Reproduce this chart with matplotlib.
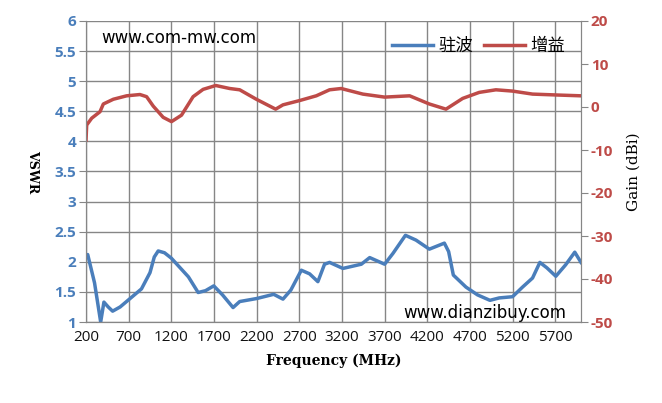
import matplotlib.pyplot as plt

# VSWR (驻波)
vswr_freq = [200, 220, 300, 372, 410, 460, 512, 600, 700, 850, 950, 1000, 1046, 1120,
             1200, 1400, 1514, 1600, 1697, 1800, 1923, 2001, 2200, 2399, 2508, 2600,
             2723, 2820, 2917, 2995, 3054, 3210, 3426, 3524, 3699, 3797, 3943, 4067,
             4223, 4399, 4449, 4504, 4652, 4788, 4933, 5042, 5198, 5315, 5432, 5518,
             5600, 5705, 5820, 5927, 6000]
vswr = [2.08, 2.12, 1.65, 1.0, 1.33, 1.25, 1.18, 1.25, 1.37, 1.55, 1.82, 2.08, 2.18, 2.15,
        2.06, 1.75, 1.49, 1.52, 1.60, 1.45, 1.24, 1.34, 1.39, 1.46, 1.38, 1.53,
        1.86, 1.80, 1.67, 1.96, 1.99, 1.89, 1.96, 2.07, 1.96, 2.14, 2.44, 2.36,
        2.21, 2.31, 2.17, 1.78, 1.58, 1.45, 1.36, 1.40, 1.42, 1.58, 1.73, 1.99,
        1.90, 1.76, 1.95, 2.16, 1.99]

# Gain (增益) in dBi
gain_freq = [200, 208, 267, 364, 403, 520, 676, 832, 910, 988, 1104, 1202, 1319,
             1455, 1572, 1720, 1884, 2001, 2196, 2422, 2508, 2703, 2898, 3054,
             3190, 3444, 3699, 3992, 4223, 4418, 4614, 4808, 5003, 5198, 5432,
             5705, 6000]
gain = [-7.7, -4.2, -2.6, -1.1, 0.7, 1.8, 2.6, 2.9, 2.4, 0.2, -2.4, -3.4, -1.9,
        2.4, 4.1, 5.0, 4.3, 4.0, 1.8, -0.5, 0.5, 1.5, 2.6, 4.0,
        4.3, 3.0, 2.3, 2.6, 0.7, -0.5, 2.0, 3.4, 4.0, 3.7, 3.0,
        2.8, 2.6]

xticks = list(range(200, 6000, 500))
vswr_ticks = [1, 1.5, 2, 2.5, 3, 3.5, 4, 4.5, 5, 5.5, 6]
gain_ticks = list(range(-50, 21, 10))

blue = '#4a7ebb'
red = '#be4b48'
grid = '#868686'

fig = plt.figure(figsize=(6.62, 4.03), dpi=100)
ax = fig.add_axes([86 / 662, 1 - 322 / 403, 495 / 662, 301 / 403])
ax2 = ax.twinx()

l1, = ax.plot(vswr_freq, vswr, color=blue, lw=2.5, solid_joinstyle='round')
l2, = ax2.plot(gain_freq, gain, color=red, lw=2.5, solid_joinstyle='round')

ax.set_xlim(200, 6000)
ax.set_ylim(1, 6)
ax2.set_ylim(-50, 20)
ax.set_xticks(xticks)
ax.set_xticklabels([str(t) for t in xticks], fontsize=11, family='Open Sans', color='#111111')
ax.set_yticks(vswr_ticks)
ax.set_yticklabels(['%g' % t for t in vswr_ticks], fontsize=11, family='Open Sans',
                   fontweight='bold', color=blue)
ax2.set_yticks(gain_ticks)
ax2.set_yticklabels([str(t) for t in gain_ticks], fontsize=11, family='Open Sans',
                    fontweight='bold', color=red)

ax.grid(True, color=grid, lw=1)
ax.tick_params(axis='x', length=0, pad=6)
ax.tick_params(axis='y', length=5, color=grid, pad=2)
ax2.tick_params(axis='y', length=5, color=grid, pad=2)
for a in (ax, ax2):
    a.spines['top'].set_visible(False)
    for s in ('left', 'right', 'bottom'):
        a.spines[s].set_color(grid)

ax.set_xlabel('Frequency (MHz)', family='DejaVu Serif', fontweight='bold', fontsize=10, labelpad=6)
ax.set_ylabel('VSWR', family='DejaVu Serif', fontweight='bold', fontsize=9, rotation=-90,
              labelpad=16, va='center')
ax2.set_ylabel('Gain (dBi)', family='DejaVu Serif', fontsize=11, rotation=90, labelpad=10)

ax.text(0.03, 0.945, 'www.com-mw.com', transform=ax.transAxes, fontsize=12,
        family='DejaVu Sans', va='center')
ax.text(0.64, 0.03, 'www.dianzibuy.com', transform=ax.transAxes, fontsize=12,
        family='DejaVu Sans', va='center')

leg = ax.legend([l1, l2], ['驻波', '增益'], loc='upper right', bbox_to_anchor=(1.0, 1.0),
                ncol=2, frameon=False, handlelength=2.4, columnspacing=0.6,
                handletextpad=0.3, prop={'family': ['Noto Sans CJK SC', 'DejaVu Sans'], 'size': 12.5})

fig.savefig('out.png', dpi=100)
